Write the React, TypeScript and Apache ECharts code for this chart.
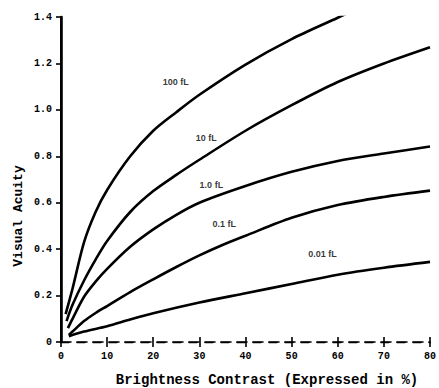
import React, { useEffect, useRef } from "react";
import * as echarts from "echarts";

const xTicks = [0, 10, 20, 30, 40, 50, 60, 70, 80];
const yTicks = ["0", "0.2", "0.4", "0.6", "0.8", "1.0", "1.2", "1.4"];

const fl100: number[][] = [[1, 0.12], [2.5, 0.23], [5, 0.43], [7.5, 0.56], [10, 0.655], [15, 0.8], [20, 0.91], [25, 0.99], [30, 1.065], [40, 1.195], [50, 1.305], [60, 1.397], [62, 1.415]];
const fl10: number[][] = [[1.2, 0.09], [2.5, 0.16], [5, 0.265], [7.5, 0.355], [10, 0.435], [15, 0.56], [20, 0.65], [25, 0.72], [30, 0.785], [40, 0.91], [50, 1.02], [60, 1.12], [70, 1.2], [80, 1.27]];
const fl1: number[][] = [[1.5, 0.06], [2.5, 0.1], [5, 0.195], [7.5, 0.26], [10, 0.315], [15, 0.41], [20, 0.485], [25, 0.548], [30, 0.6], [40, 0.672], [50, 0.733], [60, 0.78], [70, 0.812], [80, 0.842]];
const fl01: number[][] = [[1.7, 0.03], [2.5, 0.045], [5, 0.09], [7.5, 0.125], [10, 0.155], [15, 0.215], [20, 0.27], [25, 0.323], [30, 0.373], [35, 0.418], [40, 0.458], [50, 0.535], [60, 0.59], [70, 0.625], [80, 0.652]];
const fl001: number[][] = [[1.7, 0.025], [5, 0.045], [10, 0.068], [15, 0.097], [20, 0.124], [30, 0.17], [40, 0.21], [50, 0.25], [60, 0.29], [70, 0.32], [80, 0.345]];

const curveNames = ["100 fL", "10 fL", "1.0 fL", "0.1 fL", "0.01 fL"];
const curveLabelPos: number[][] = [[24.9, 1.12], [31.5, 0.877], [32.6, 0.678], [35.4, 0.51], [56.7, 0.38]];

const FONT = "'Liberation Mono', 'DejaVu Sans Mono', monospace";

export default function App() {
  const ref = useRef<HTMLDivElement>(null);
  useEffect(() => {
    if (!ref.current) return;
    const chart = echarts.init(ref.current, null, { renderer: "svg" });
    const curves = [fl100, fl10, fl1, fl01, fl001];
    const lineSeries = curves.map((d, i) => ({
      type: "line",
      name: curveNames[i],
      data: d,
      smooth: 0.3,
      showSymbol: false,
      symbol: "none",
      clip: true,
      lineStyle: { color: "#000", width: 2.6 },
      xAxisIndex: 0,
      yAxisIndex: 0,
    }));
    chart.setOption({
      animation: false,
      backgroundColor: "#fff",
      grid: { left: 61, right: 6, top: 17, bottom: 46, containLabel: false },
      xAxis: [
        {
          type: "value",
          min: 0,
          max: 80,
          interval: 10,
          position: "bottom",
          axisLine: { show: true, lineStyle: { color: "#000", width: 1.6, type: [10, 6] } },
          axisTick: { show: true, inside: true, length: 5, lineStyle: { color: "#000", width: 1.6 } },
          axisLabel: {
            color: "#000",
            fontFamily: FONT,
            fontWeight: "bold",
            fontSize: 10,
            margin: 9,
            formatter: (v: number) => (xTicks.includes(v) ? String(v) : ""),
          },
          splitLine: { show: false },
        },
        {
          type: "value",
          min: 0,
          max: 80,
          interval: 10,
          position: "top",
          axisLine: { show: true, lineStyle: { color: "#000", width: 1.4, type: [8, 8] } },
          axisTick: { show: true, inside: true, length: 5, lineStyle: { color: "#000", width: 1.6 } },
          axisLabel: { show: false },
          splitLine: { show: false },
        },
      ],
      yAxis: [
        {
          type: "value",
          min: 0,
          max: 1.4,
          interval: 0.2,
          position: "left",
          axisLine: { show: true, lineStyle: { color: "#000", width: 2.6 } },
          axisTick: { show: false },
          axisLabel: {
            color: "#000",
            fontFamily: FONT,
            fontWeight: "bold",
            fontSize: 10,
            margin: 9,
            formatter: (v: number) => yTicks[Math.round(v / 0.2)] ?? "",
          },
          splitLine: { show: false },
        },
        {
          type: "value",
          min: 0,
          max: 1.4,
          interval: 0.2,
          position: "right",
          axisLine: { show: true, lineStyle: { color: "#000", width: 2 } },
          axisTick: { show: true, inside: true, length: 5, lineStyle: { color: "#000", width: 1.6 } },
          axisLabel: { show: false },
          splitLine: { show: false },
        },
      ],
      series: [
        ...lineSeries,
        {
          type: "scatter",
          symbolSize: 0,
          itemStyle: { color: "#000" },
          data: curveLabelPos.map((p, i) => ({ value: p, name: curveNames[i] })),
          label: {
            show: true,
            position: "inside",
            formatter: (p: any) => p.name,
            color: "#000",
            fontFamily: "'Liberation Sans', Arial, sans-serif",
            fontWeight: "bold",
            fontSize: 9,
          },
        },
      ],
      graphic: [
        {
          type: "text",
          x: 267,
          y: 380,
          style: {
            text: "Brightness Contrast (Expressed in %)",
            fontFamily: FONT,
            fontWeight: "bold",
            fontSize: 14,
            fill: "#000",
            textAlign: "center",
            textVerticalAlign: "middle",
          },
        },
        {
          type: "text",
          x: 18,
          y: 216,
          rotation: Math.PI / 2,
          style: {
            text: "Visual Acuity",
            fontFamily: FONT,
            fontWeight: "bold",
            fontSize: 13,
            fill: "#000",
            textAlign: "center",
            textVerticalAlign: "middle",
          },
        },
      ],
    });
    return () => chart.dispose();
  }, []);
  return <div ref={ref} style={{ width: 439, height: 388, position: "absolute", left: 0, top: 0 }} />;
}
